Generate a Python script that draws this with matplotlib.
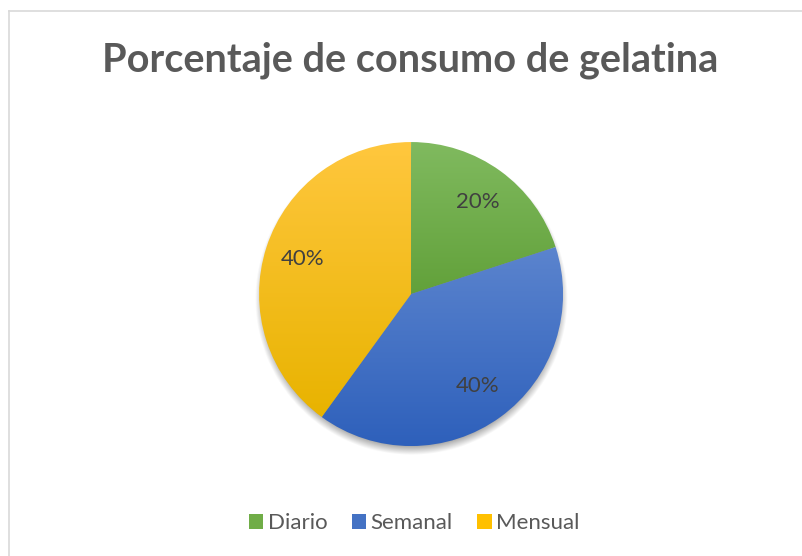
import matplotlib
matplotlib.use("Agg")
import matplotlib.pyplot as plt
import numpy as np
from matplotlib.colors import LinearSegmentedColormap
from matplotlib.patches import Patch
from matplotlib.lines import Line2D

# Datos
categorias = ["Diario", "Semanal", "Mensual"]
porcentajes = [20, 40, 40]
titulo = "Porcentaje de consumo de gelatina"

# Colores (parte superior, parte inferior) de cada porción
colores_sup = ["#80BA5F", "#5B84CE", "#FFC73E"]
colores_inf = ["#62A13A", "#2E60BB", "#E8B300"]
colores_leyenda = ["#70AD47", "#4472C4", "#FFC000"]

plt.rcParams["font.family"] = ["Lato", "DejaVu Sans"]

fig = plt.figure(figsize=(8.02, 5.56), dpi=100)
fig.patch.set_facecolor("white")

# Borde del área del gráfico (solo arriba e izquierda visibles)
fig.add_artist(Line2D([9 / 802, 1], [1 - 11 / 556, 1 - 11 / 556], color="#D9D9D9", lw=1.2))
fig.add_artist(Line2D([9 / 802, 9 / 802], [0, 1 - 11 / 556], color="#D9D9D9", lw=1.2))

ax = fig.add_axes([0.2851, 0.1431, 0.4549, 0.6561])

# Sombra difusa bajo el pastel
n = 400
xs = np.linspace(-1.2, 1.2, n)
X, Y = np.meshgrid(xs, xs)
d = np.hypot(X, Y + 0.035)
alpha = np.clip((1.03 - d) / 0.08, 0, 1) * 0.45
sombra = np.zeros((n, n, 4))
sombra[..., 3] = alpha
ax.imshow(sombra, extent=(-1.2, 1.2, -1.2, 1.2), origin="lower", zorder=0)

wedges, _, autotexts = ax.pie(
    porcentajes,
    startangle=90,
    counterclock=False,
    radius=1,
    autopct="%1.0f%%",
    pctdistance=0.75,
    wedgeprops=dict(linewidth=0),
    textprops=dict(color="#404040", fontsize=16),
)

# Relleno degradado vertical en cada porción
for w, c_sup, c_inf in zip(wedges, colores_sup, colores_inf):
    w.set_facecolor("none")
    bb = w.get_path().get_extents(w.get_transform() - ax.transData)
    cmap = LinearSegmentedColormap.from_list("g", [c_inf, c_sup])
    grad = np.linspace(0, 1, 256).reshape(-1, 1)
    im = ax.imshow(grad, cmap=cmap, origin="lower", aspect="auto",
                   extent=(bb.x0, bb.x1, bb.y0, bb.y1), zorder=1)
    im.set_clip_path(w)

for t in autotexts:
    t.set_zorder(3)

ax.set_xlim(-1.2, 1.2)
ax.set_ylim(-1.2, 1.2)
ax.set_aspect("equal")
ax.axis("off")

fig.text(410.5 / 802, 1 - 60 / 556, titulo, ha="center", va="center",
         fontsize=28.5, fontweight="bold", color="#595959")

handles = [Patch(facecolor=c, edgecolor="none") for c in colores_leyenda]
fig.legend(handles, categorias, loc="center", bbox_to_anchor=(414 / 802, 1 - 523 / 556),
           ncol=3, frameon=False, fontsize=16, labelcolor="#595959",
           handlelength=0.65, handleheight=0.65, handletextpad=0.2, columnspacing=1.1)

fig.savefig("out.png", dpi=100)
